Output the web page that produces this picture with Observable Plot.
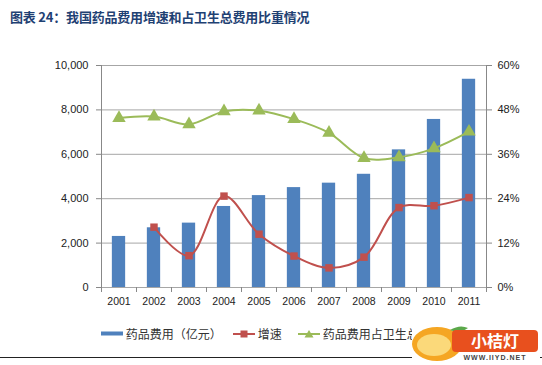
<!DOCTYPE html>
<html><head><meta charset="utf-8">
<script src="https://cdn.jsdelivr.net/npm/d3@7"></script>
<script src="https://cdn.jsdelivr.net/npm/@observablehq/plot@0.6"></script>
<style>
body{margin:0;background:#fff;font-family:"Liberation Sans","Noto Sans CJK SC",sans-serif;}
#wrap{position:relative;width:542px;height:365px;overflow:hidden;}
#chart{position:absolute;left:0;top:0;}
#title{position:absolute;left:10px;top:7px;font-size:13px;font-weight:bold;color:#1F4173;font-family:"Noto Sans CJK SC",sans-serif;letter-spacing:-0.2px;}
#legend{position:absolute;left:101px;top:325px;font-size:12px;color:#333;font-family:"Noto Sans CJK SC",sans-serif;}
#legend span.item{position:absolute;white-space:nowrap;top:0;}
#rule{position:absolute;left:0;top:357px;width:542px;height:1px;background:#222;}
#logo{position:absolute;left:412px;top:324px;width:128px;height:40px;}
</style></head>
<body><div id="wrap">
<div id="chart"></div>
<div id="title">图表 24：我国药品费用增速和占卫生总费用比重情况</div>
<div id="rule"></div>
<div id="legend"></div>
<div id="logo"></div>
</div>
<script>
const years = [2001,2002,2003,2004,2005,2006,2007,2008,2009,2010,2011];
const drugCost = [2300,2690,2900,3650,4140,4500,4700,5100,6200,7570,9380];
const growthYears = [2002,2003,2004,2005,2006,2007,2008,2009,2010,2011];
const growthPct = [16.3,8.6,24.7,14.4,8.5,5.3,8.2,21.6,22.1,24.3];
const sharePct = [45.8,46.2,44.1,47.6,47.8,45.5,41.8,35.0,35.2,37.6,42.1];
const leftTicks = [0,2000,4000,6000,8000,10000];
const rightTicks = [0,12,24,36,48,60];
const legendLabels = ["药品费用（亿元）","增速","药品费用占卫生总费用比重"];

const BLUE="#4F81BD", RED="#C0504D", GREEN="#9BBB59", GRID="#A6A6A6", AXIS="#888";
const k = 10000/60; // percent -> left axis units
const hw = 0.19;
const bars = years.map((y,i)=>({year:y, v:drugCost[i]}));
const growth = growthYears.map((y,i)=>({year:y, v:growthPct[i]*k}));
const share = years.map((y,i)=>({year:y, v:sharePct[i]*k}));
const bounds = [2000.5, ...years.map(y=>y+0.5)];

const plot = Plot.plot({
  width:542, height:365,
  marginLeft:101, marginRight:56, marginTop:65, marginBottom:78,
  style:{fontFamily:"Liberation Sans, sans-serif", fontSize:"10.5px", color:"#222", background:"transparent"},
  x:{type:"linear", domain:[2000.5,2011.5], axis:null, label:null},
  y:{type:"linear", domain:[0,10000], axis:null, label:null},
  marks:[
    Plot.ruleY(leftTicks, {y:d=>d, stroke:GRID, strokeWidth:1}),
    Plot.ruleX([2000.5, 2011.5], {x:d=>d, y1:0, y2:10000, stroke:AXIS}),
    Plot.axisY(leftTicks, {anchor:"left", label:null, tickSize:5, tickPadding:8, stroke:AXIS, tickFormat:d=>d3.format(",")(d), fontSize:11}),
    Plot.axisY(rightTicks.map(p=>p*k), {anchor:"right", label:null, tickSize:5, tickPadding:6, stroke:AXIS, tickFormat:d=>Math.round(d/k)+"%", fontSize:11}),
    Plot.ruleX(bounds, {x:d=>d, y1:0, y2:-225, stroke:AXIS}),
    Plot.rectY(bars, {x1:d=>d.year-hw, x2:d=>d.year+hw, y:"v", fill:BLUE}),
    Plot.axisX(years, {anchor:"bottom", label:null, tickSize:0, tickPadding:10, tickFormat:d=>String(d), fontSize:10.5}),
    Plot.line(share, {x:"year", y:"v", stroke:GREEN, strokeWidth:2, curve:"catmull-rom"}),
    Plot.dot(share, {x:"year", y:"v", symbol:"triangle", r:5, fill:GREEN, stroke:null}),
    Plot.line(growth, {x:"year", y:"v", stroke:RED, strokeWidth:2, curve:"catmull-rom"}),
    Plot.dot(growth, {x:"year", y:"v", symbol:"square", r:4.2, fill:RED, stroke:null})
  ]
});
document.getElementById("chart").appendChild(plot);

// legend
const lg = document.getElementById("legend");
lg.innerHTML = `
<span class="item" style="left:0px"><svg width="22" height="12" style="vertical-align:-1px"><rect x="0" y="3.5" width="22" height="4" fill="${BLUE}"/></svg> ${legendLabels[0]}</span>
<span class="item" style="left:132px"><svg width="22" height="12" style="vertical-align:-1px"><line x1="0" x2="22" y1="6" y2="6" stroke="${RED}" stroke-width="2"/><rect x="7.5" y="2.5" width="7" height="7" fill="${RED}"/></svg> ${legendLabels[1]}</span>
<span class="item" style="left:197px"><svg width="22" height="12" style="vertical-align:-1px"><line x1="0" x2="22" y1="6" y2="6" stroke="${GREEN}" stroke-width="2"/><path d="M11,2 L15.5,9.5 L6.5,9.5 Z" fill="${GREEN}"/></svg> ${legendLabels[2]}</span>`;

// watermark logo approximation
document.getElementById("logo").innerHTML = `
<svg width="128" height="40">
<rect x="0" y="0" width="128" height="40" fill="#fff"/>
<ellipse cx="25" cy="20" rx="25" ry="17" fill="#F5A623"/>
<ellipse cx="22" cy="21" rx="17" ry="11" fill="#FBD97A"/>
<path d="M38,6 Q48,0 56,4 Q48,10 38,6Z" fill="#5BA84A"/>
<rect x="40" y="6" width="86" height="22" rx="4" fill="#E8501E"/>
<text x="83" y="23" text-anchor="middle" fill="#fff" font-size="16" font-weight="bold" font-family="Noto Sans CJK SC">小桔灯</text>
<text x="83" y="36" text-anchor="middle" fill="#444" font-size="7" font-weight="bold" font-family="Liberation Sans" letter-spacing="1">WWW.IIYD.NET</text>
</svg>`;
</script>
</body></html>
